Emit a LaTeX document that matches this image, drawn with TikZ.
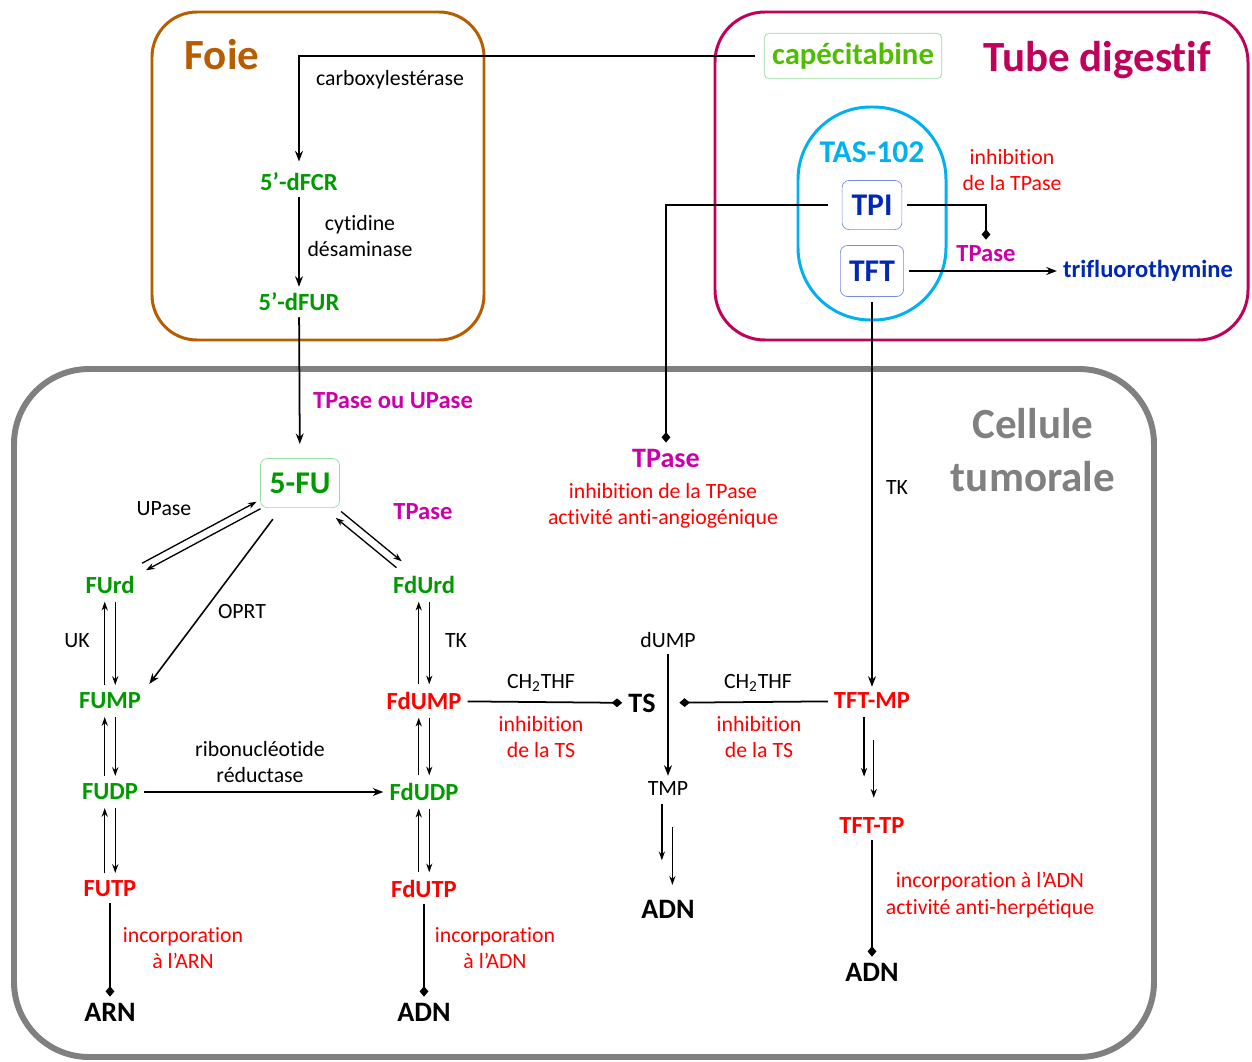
\documentclass[tikz,border=0pt]{standalone}
\usepackage{fontspec}
\setmainfont{Carlito}[Ligatures=NoCommon]
\usetikzlibrary{arrows.meta}
\definecolor{foie}{RGB}{184,92,0}
\definecolor{tube}{RGB}{192,0,90}
\definecolor{tas}{RGB}{0,176,240}
\definecolor{cell}{RGB}{128,128,128}
\definecolor{vert}{RGB}{0,153,0}
\definecolor{cape}{RGB}{80,190,0}
\definecolor{boxvert}{RGB}{150,220,160}
\definecolor{mag}{RGB}{204,0,170}
\definecolor{rouge}{RGB}{255,0,0}
\definecolor{bleu}{RGB}{0,40,180}
\definecolor{boxbleu}{RGB}{120,140,230}

\begin{document}
\begin{tikzpicture}[x=0.02cm, y=-0.02cm,
        txt/.style={font=\fontsize{12.4}{15}\selectfont, align=center},
        mol/.style={font=\fontsize{14}{17}\selectfont\bfseries},
        fin/.style={font=\fontsize{16}{19}\selectfont\bfseries},
        gros/.style={font=\fontsize{18}{21}\selectfont\bfseries},
        titre/.style={font=\fontsize{24.5}{30}\selectfont\bfseries, align=center},
        zone/.style={rounded corners=#1, line width=1.7pt},
        fl/.style={-{Stealth[length=6pt,width=4.5pt]}, line width=1pt},
        rx/.style={-{Stealth[length=5pt,width=3.5pt]}, line width=0.75pt, shorten <=1pt, shorten >=1pt},
        inh/.style={-{Diamond[length=6pt,width=5pt]}, line width=1pt}
    ]

        \useasboundingbox (0,0) rectangle (1252,1062);

        \draw[zone=0.9cm, foie] (152,12) rectangle (484,340);  %Foie
        \draw[zone=1cm, tube] (715,12) rectangle (1248,340);  %Tube digestif
        \draw[zone=1.5cm, cell, line width=3.4pt] (14,369) rectangle (1154,1057);  %Cellule tumorale
        \draw[zone=1.45cm, tas] (798,107) rectangle (946,320);  %TAS-102

        \node[titre, foie] (foie) at (222,55) {Foie};
        \node[titre, tube] (tube) at (1097,60) {Tube digestif};
        \node[titre, cell] (cellule) at (1033,450) {Cellule\\tumorale};

        % Tube digestif
        \node[gros, cape, draw=boxvert, rounded corners=3pt, inner xsep=4.5pt, minimum height=26pt, font=\fontsize{17.5}{21}\selectfont\bfseries] (cape) at (853,56) {capécitabine};
        \node[gros, tas] (tas102) at (872,152) {TAS-102};
        \node[gros, bleu, draw=boxbleu, rounded corners=4pt, minimum width=34pt, minimum height=28pt] (tpi) at (872,205) {TPI};
        \node[gros, bleu, draw=boxbleu, rounded corners=4pt, minimum width=36pt, minimum height=29pt] (tft) at (872,271) {TFT};
        \node[txt, rouge] (inhT) at (1012,170) {inhibition\\de la TPase};
        \node[mol, mag] (tpaseT) at (986,254) {TPase};
        \node[mol, bleu] (tfthym) at (1148,271) {trifluorothymine};

        \draw[inh, shorten <=3pt] (tpi.east) -| (tpaseT.north);
        \draw[fl, shorten <=3pt] (tft.east) -- (tfthym.west);

        % Foie
        \node[mol, vert] (dfcr) at (299,182) {5’-dFCR};
        \node[mol, vert] (dfur) at (299,302) {5’-dFUR};
        \node[txt] (carbox) at (390,80) {carboxylestérase};
        \node[txt] (cytid) at (360,236) {cytidine\\désaminase};

        \draw[fl, shorten <=5pt, shorten >=3pt] (cape.west) -| (dfcr.north);
        \draw[fl] (dfcr) -- (dfur);

        % Cellule tumorale
        \node[gros, vert, draw=boxvert, rounded corners=4pt, minimum width=45pt, minimum height=28pt] (fu) at (300,483) {5-FU};
        \node[mol, mag] (tpup) at (393,401) {TPase ou UPase};
        \draw[fl, shorten >=8pt] (dfur) -- (fu);

        \foreach \nom/\lab/\y/\col in {furd/FUrd/585/vert, fump/FUMP/701/vert, fudp/FUDP/792/vert, futp/FUTP/889/rouge}
            \node[mol, \col] (\nom) at (110,\y) {\lab};
        \foreach \nom/\lab/\y/\col in {fdurd/FdUrd/585/vert, fdump/FdUMP/701/rouge, fdudp/FdUDP/792/vert, fdutp/FdUTP/889/rouge}
            \node[mol, \col] (\nom) at (424,\y) {\lab};
        \node[fin] (arn) at (110,1012) {ARN};
        \node[fin] (adn1) at (424,1012) {ADN};

        \node[txt] (upase) at (164,509) {UPase};
        \node[txt] (oprt) at (242,611) {OPRT};
        \node[mol, mag] (tpaseF) at (423,512) {TPase};
        \node[txt] (uk) at (77,641) {UK};
        \node[txt] (tk1) at (456,641) {TK};
        \node[txt] (ribo) at (260,762) {ribonucléotide\\réductase};
        \node[txt, rouge] (incARN) at (183,948) {incorporation\\à l’ARN};
        \node[txt, rouge] (incADN) at (495,948) {incorporation\\à l’ADN};

        \draw[rx, shorten <=4pt, transform canvas={shift={(-1.1pt,2pt)}}] (furd) -- (fu);
        \draw[rx, shorten >=4pt, transform canvas={shift={(1.1pt,-2pt)}}] (fu) -- (furd);
        \draw[rx, shorten <=6pt, shorten >=5pt, transform canvas={shift={(1.5pt,1.8pt)}}] (fu) -- (fdurd);
        \draw[rx, shorten <=5pt, shorten >=6pt, transform canvas={shift={(-1.5pt,-1.8pt)}}] (fdurd) -- (fu);
        \draw[fl, line width=0.9pt, shorten <=8pt, shorten >=2pt] (fu) -- (fump.north east);  %OPRT

        \foreach \a/\b in {furd/fump, fump/fudp, fudp/futp, fdurd/fdump, fdump/fdudp, fdudp/fdutp}
            {
                \draw[rx, transform canvas={xshift=-3pt}] (\b) -- (\a);
                \draw[rx, transform canvas={xshift=3pt}] (\a) -- (\b);
            };

        \draw[fl] (fudp) -- (fdudp);
        \draw[inh] (futp) -- (arn);
        \draw[inh] (fdutp) -- (adn1);

        % TS
        \node[fin] (ts) at (642,703) {TS};
        \node[txt] (dump) at (668,640) {dUMP};
        \node[txt] (tmp) at (668,789) {TMP};
        \node[fin] (adn2) at (668,909) {ADN};
        \node[txt] (ch1) at (541,683) {CH\textsubscript{2}THF};
        \node[txt, rouge] (inhTS1) at (541,737) {inhibition\\de la TS};
        \node[txt] (ch2) at (758,683) {CH\textsubscript{2}THF};
        \node[txt, rouge] (inhTS2) at (759,737) {inhibition\\de la TS};

        \draw[inh] (fdump) -- (ts);
        \draw[fl] (dump) -- (tmp);
        \draw[rx, shorten >=19pt, transform canvas={xshift=-3.5pt}] (tmp) -- (adn2);
        \draw[rx, shorten <=14pt, shorten >=5pt, transform canvas={xshift=2.5pt}] (tmp) -- (adn2);

        % TAS-102 dans la cellule
        \node[fin, mag] (tpaseC) at (666,458) {TPase};
        \node[txt, rouge] (angio) at (663,506) {inhibition de la TPase\\activité anti-angiogénique};
        \node[mol, rouge] (tftmp) at (872,701) {TFT-MP};
        \node[mol, rouge] (tfttp) at (872,826) {TFT-TP};
        \node[fin] (adn3) at (872,972) {ADN};
        \node[txt] (tk2) at (897,488) {TK};
        \node[txt, rouge] (herpes) at (990,895) {incorporation à l’ADN\\activité anti-herpétique};

        \draw[inh, shorten <=8pt] (tpi.west) -| (tpaseC.north);
        \draw[fl, shorten <=3pt] (tft.south) -- (tftmp.north);
        \draw[inh, shorten >=10pt] (tftmp) -- (ts);
        \draw[rx, shorten >=20pt, transform canvas={xshift=-4.5pt}] (tftmp) -- (tfttp);
        \draw[rx, shorten <=14pt, shorten >=8pt, transform canvas={xshift=1pt}] (tftmp) -- (tfttp);
        \draw[inh] (tfttp) -- (adn3);

    \end{tikzpicture}
\end{document}
